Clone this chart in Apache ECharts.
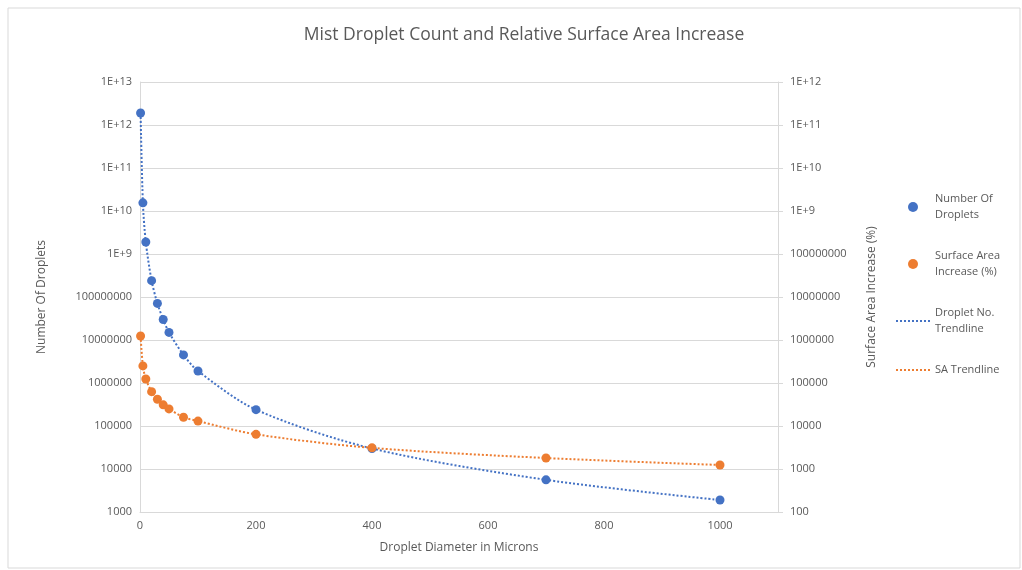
<!DOCTYPE html>
<html>
<head>
<meta charset="utf-8">
<script src="https://cdn.jsdelivr.net/npm/echarts@6/dist/echarts.min.js"></script>
<style>
  html, body { margin: 0; padding: 0; background: #fff; }
  #main { width: 1022px; height: 570px; }
</style>
</head>
<body>
<div id="main"></div>
<script>
// droplet diameter (microns)
var diameters = [1, 5, 10, 20, 30, 40, 50, 75, 100, 200, 400, 700, 1000];
// number of droplets (left axis)
var dropletCount = [1.9e12, 1.55e10, 1.9e9, 2.4e8, 7.1e7, 3.0e7, 1.5e7, 4.5e6, 1.9e6, 2.4e5, 3.0e4, 5.6e3, 1.9e3];
// surface area increase % (right axis)
var saIncrease = [1.24e6, 2.5e5, 1.24e5, 6.3e4, 4.2e4, 3.1e4, 2.5e4, 1.6e4, 1.3e4, 6.4e3, 3.1e3, 1.8e3, 1.24e3];

var blue = '#4472C4';
var orange = '#ED7D31';
var grey = '#595959';
var font = 'Open Sans';

function pairs(xs, ys) {
  var out = [];
  for (var i = 0; i < xs.length; i++) out.push([xs[i], ys[i]]);
  return out;
}

// excel style: big numbers in 1E+nn form
function logLabel(v) {
  if (v >= 1e9) return '1E+' + Math.round(Math.log10(v));
  return String(Math.round(v));
}

var myChart = echarts.init(document.getElementById('main'));

var option = {
  backgroundColor: '#fff',
  textStyle: { fontFamily: font },
  title: {
    text: 'Mist Droplet Count and Relative Surface Area Increase',
    left: 519, top: 21, textAlign: 'center',
    textStyle: { fontFamily: font, fontSize: 17.5, fontWeight: 'normal', color: grey }
  },
  graphic: [{
    type: 'rect', shape: { x: 8, y: 8, width: 1012, height: 560 },
    style: { fill: 'none', stroke: '#d9d9d9', lineWidth: 1 }, silent: true
  }],
  legend: {
    orient: 'vertical', left: 890, top: 186, itemGap: 25,
    itemWidth: 34, itemHeight: 10,
    textStyle: { fontFamily: font, fontSize: 11, color: grey, lineHeight: 16 },
    data: [
      { name: 'Number Of\nDroplets', icon: 'circle', itemStyle: { color: blue, opacity: 1 } },
      { name: 'Surface Area\nIncrease (%)', icon: 'circle', itemStyle: { color: orange, opacity: 1 } },
      { name: 'Droplet No.\nTrendline', itemStyle: { opacity: 0 } },
      { name: 'SA Trendline', itemStyle: { opacity: 0 } }
    ]
  },
  grid: { left: 140, right: 244, top: 82, bottom: 58 },
  xAxis: {
    type: 'value', min: 0, max: 1100, interval: 200,
    name: 'Droplet Diameter in Microns', nameLocation: 'middle', nameGap: 30,
    nameTextStyle: { fontFamily: font, fontSize: 12, color: grey },
    axisLine: { lineStyle: { color: '#d9d9d9' } },
    axisTick: { show: false },
    axisLabel: { color: grey, fontSize: 11, showMaxLabel: false,
      formatter: function (v) { return v > 1000 ? '' : v; } },
    splitLine: { show: false }
  },
  yAxis: [{
    type: 'log', logBase: 10, min: 1000, max: 1e13, interval: 1,
    name: 'Number Of Droplets', nameLocation: 'middle', nameGap: 92,
    nameTextStyle: { fontFamily: font, fontSize: 12, color: grey },
    axisLine: { show: true, lineStyle: { color: '#d9d9d9' } },
    axisTick: { show: false },
    axisLabel: { color: grey, fontSize: 11, formatter: logLabel },
    splitLine: { lineStyle: { color: '#d9d9d9' } }
  }, {
    type: 'log', logBase: 10, min: 100, max: 1e12, interval: 1,
    name: 'Surface Area Increase (%)', nameLocation: 'middle', nameGap: 88,
    nameRotate: 90,
    nameTextStyle: { fontFamily: font, fontSize: 12, color: grey },
    axisLine: { show: true, lineStyle: { color: '#d9d9d9' } },
    axisTick: { show: true, inside: false, length: 5, lineStyle: { color: '#d9d9d9' } },
    axisLabel: { color: grey, fontSize: 11, margin: 12, formatter: logLabel },
    splitLine: { show: false }
  }],
  series: [
    {
      name: 'Droplet No.\nTrendline', type: 'line', yAxisIndex: 0,
      data: pairs(diameters, dropletCount), smooth: 0.3, symbol: 'none',
      itemStyle: { color: blue },
      lineStyle: { color: blue, width: 2, type: [2, 2] }, z: 1
    },
    {
      name: 'SA Trendline', type: 'line', yAxisIndex: 1,
      data: pairs(diameters, saIncrease), smooth: 0.3, symbol: 'none',
      itemStyle: { color: orange },
      lineStyle: { color: orange, width: 2, type: [2, 2] }, z: 1
    },
    {
      name: 'Number Of\nDroplets', type: 'scatter', yAxisIndex: 0,
      data: pairs(diameters, dropletCount), symbolSize: 9,
      itemStyle: { color: blue, opacity: 1 }, z: 3
    },
    {
      name: 'Surface Area\nIncrease (%)', type: 'scatter', yAxisIndex: 1,
      data: pairs(diameters, saIncrease), symbolSize: 9,
      itemStyle: { color: orange, opacity: 1 }, z: 3
    }
  ]
};

myChart.setOption(option);
</script>
</body>
</html>
